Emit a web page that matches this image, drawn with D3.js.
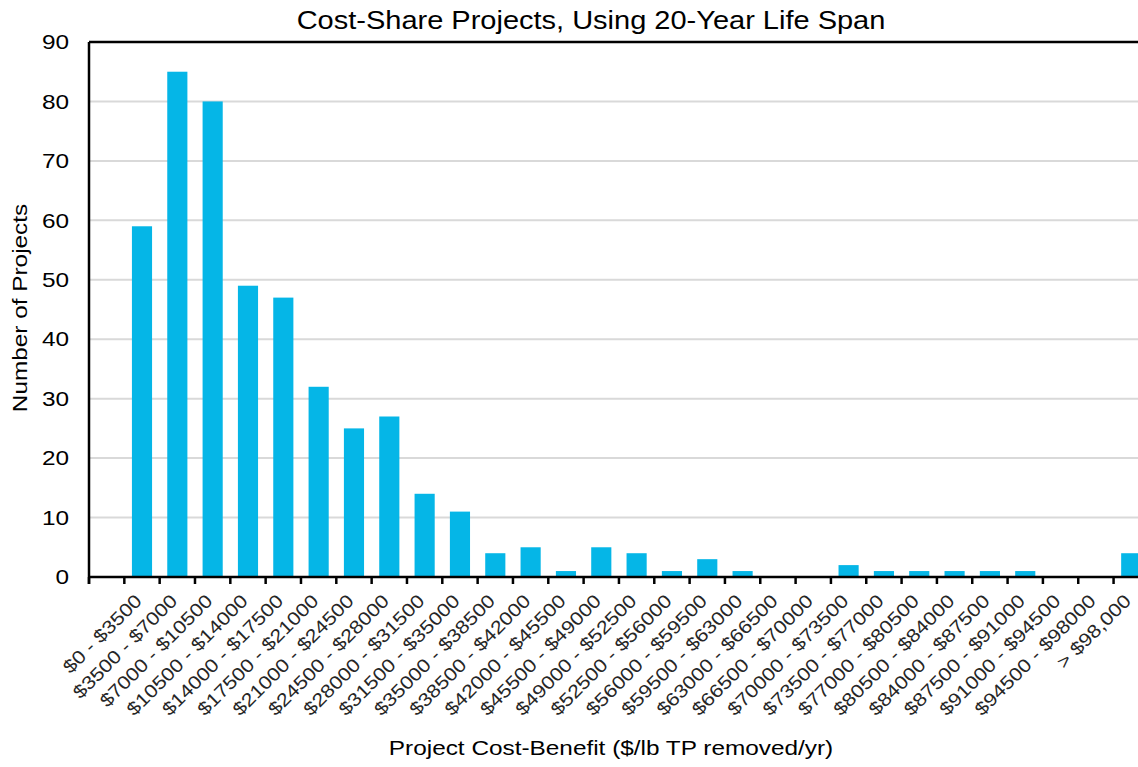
<!DOCTYPE html>
<html>
<head>
<meta charset="utf-8">
<script src="https://cdn.jsdelivr.net/npm/d3@7"></script>
<style>
  html, body { margin: 0; padding: 0; background: #fff; }
  svg { display: block; font-family: "Liberation Sans", Arial, sans-serif; }
</style>
</head>
<body>
<svg id="chart" width="1138" height="767"></svg>
<script>
// Cost-benefit bins ($/lb TP removed/yr) and project counts per bin
const categories = [
  "$0 - $3500", "$3500 - $7000", "$7000 - $10500", "$10500 - $14000",
  "$14000 - $17500", "$17500 - $21000", "$21000 - $24500", "$24500 - $28000",
  "$28000 - $31500", "$31500 - $35000", "$35000 - $38500", "$38500 - $42000",
  "$42000 - $45500", "$45500 - $49000", "$49000 - $52500", "$52500 - $56000",
  "$56000 - $59500", "$59500 - $63000", "$63000 - $66500", "$66500 - $70000",
  "$70000 - $73500", "$73500 - $77000", "$77000 - $80500", "$80500 - $84000",
  "$84000 - $87500", "$87500 - $91000", "$91000 - $94500", "$94500 - $98000",
  "> $98,000"
];
const projectCounts = [
  59, 85, 80, 49, 47, 32, 25, 27, 14, 11, 4, 5, 1, 5, 4, 1, 3, 1, 0, 0,
  2, 1, 1, 1, 1, 1, 0, 0, 4
];
const yTicks = [0, 10, 20, 30, 40, 50, 60, 70, 80, 90];

const titleText = "Cost-Share Projects, Using 20-Year Life Span";
const xTitleText = "Project Cost-Benefit ($/lb TP removed/yr)";
const yTitleText = "Number of Projects";

// The chart's lettering is a little wider than Liberation Sans
const widen = 1.16;

const svg = d3.select("#chart");

// Plot area: the category axis keeps one empty slot before the first bin
const plotLeft = 89, plotTop = 42, plotBottom = 577;
const step = 35.33;
const slots = categories.length + 1;
const plotRight = plotLeft + step * slots;

const x = d3.scaleBand()
  .domain(categories)
  .range([plotLeft + step, plotRight])
  .paddingInner(0.43)
  .paddingOuter(0.215);

const y = d3.scaleLinear().domain([0, 90]).range([plotBottom, plotTop]);

// Horizontal gridlines
svg.append("g")
  .selectAll("line")
  .data(yTicks.filter(d => d > 0 && d < 90))
  .join("line")
  .attr("x1", plotLeft).attr("x2", plotRight)
  .attr("y1", d => y(d)).attr("y2", d => y(d))
  .attr("stroke", "#d9d9d9").attr("stroke-width", 2);

// Bars
svg.append("g")
  .selectAll("rect")
  .data(categories.map((c, i) => ({ c, v: projectCounts[i] })))
  .join("rect")
  .attr("x", d => x(d.c))
  .attr("width", x.bandwidth())
  .attr("y", d => y(d.v))
  .attr("height", d => y(0) - y(d.v))
  .attr("fill", "#05b6e7");

// Top border of the plot area
svg.append("line")
  .attr("x1", plotLeft).attr("x2", plotRight)
  .attr("y1", plotTop).attr("y2", plotTop)
  .attr("stroke", "#000").attr("stroke-width", 2.5);

// Y axis
const yAxis = d3.axisLeft(y).tickValues(yTicks).tickSize(0).tickPadding(0);
const gy = svg.append("g").attr("transform", `translate(${plotLeft},0)`).call(yAxis);
gy.select(".domain").attr("stroke", "#000").attr("stroke-width", 2.5)
  .attr("d", `M0,${plotTop}V${plotBottom + 7}`);
gy.selectAll(".tick text")
  .attr("x", null)
  .attr("transform", `translate(-20,0) scale(${widen},1)`)
  .attr("font-size", 21).attr("fill", "#000")
  .attr("font-family", "Liberation Sans, Arial, sans-serif");

// X axis: ticks sit on bin boundaries
const gx = svg.append("g").attr("transform", `translate(0,${plotBottom})`);
gx.append("line")
  .attr("x1", plotLeft).attr("x2", plotRight)
  .attr("stroke", "#000").attr("stroke-width", 2.5);
gx.selectAll("line.tick")
  .data(d3.range(slots + 1))
  .join("line")
  .attr("class", "tick")
  .attr("x1", i => plotLeft + i * step).attr("x2", i => plotLeft + i * step)
  .attr("y1", 0).attr("y2", 7)
  .attr("stroke", "#000").attr("stroke-width", 2.5);

gx.selectAll("text")
  .data(categories)
  .join("text")
  .attr("transform", d => `translate(${x(d) + x.bandwidth() / 2 + 1},${25}) rotate(-45) scale(${widen},1)`)
  .attr("text-anchor", "end")
  .attr("font-size", 18.5)
  .attr("fill", "#262626")
  .text(d => d);

// Titles
svg.append("text")
  .attr("transform", `translate(591,29) scale(${widen},1)`)
  .attr("text-anchor", "middle")
  .attr("font-size", 25)
  .attr("fill", "#000")
  .text(titleText);

svg.append("text")
  .attr("transform", `translate(611,755) scale(${widen},1)`)
  .attr("text-anchor", "middle")
  .attr("font-size", 21)
  .attr("fill", "#000")
  .text(xTitleText);

svg.append("text")
  .attr("transform", `translate(27,308) rotate(-90) scale(${widen},1)`)
  .attr("text-anchor", "middle")
  .attr("font-size", 21)
  .attr("fill", "#000")
  .text(yTitleText);
</script>
</body>
</html>
